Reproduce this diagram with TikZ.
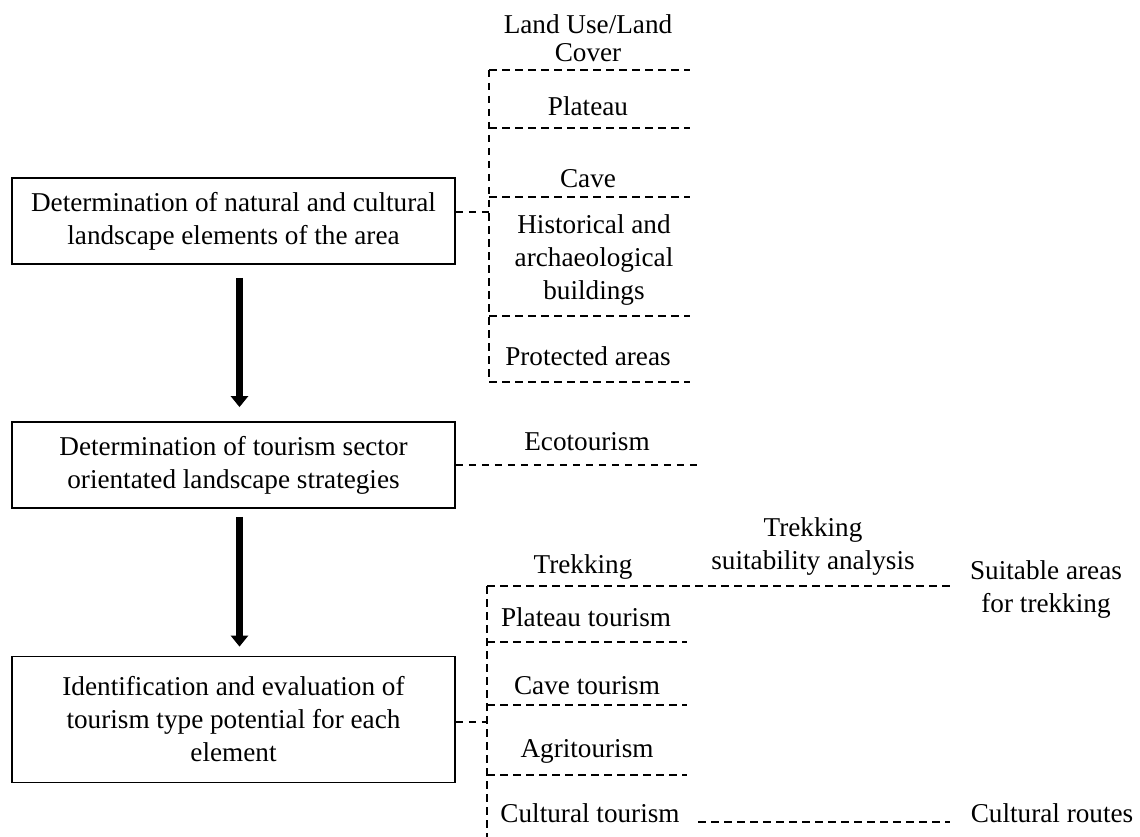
\documentclass[tikz,border=0pt]{standalone}
\usepackage{fontspec}
\setmainfont{Liberation Serif}
\usetikzlibrary{arrows.meta,calc}
\begin{document}
\begin{tikzpicture}[x=1pt,y=-1pt,
  box/.style={draw,line width=1.8pt,minimum width=443pt,align=center,inner sep=0pt,font=\fontsize{27.2}{33}\selectfont},
  lbl/.style={align=center,inner sep=0pt,font=\fontsize{27.2}{33}\selectfont},
  dashline/.style={line width=1.4pt,dash pattern=on 7.5pt off 5.5pt},
  bigarrow/.style={line width=7pt,-{Triangle[width=17pt,length=11pt]}}]
\useasboundingbox (0,0) rectangle (1140,837);
\fill[white] (0,0) rectangle (1140,837);

% main boxes
\node[box,minimum height=86pt] (b1) at (233.5,221) {Determination of natural and cultural\\landscape elements of the area};
\node[box,minimum height=86pt] (b2) at (233.5,465) {Determination of tourism sector\\orientated landscape strategies};
\node[box,minimum height=126pt] (b3) at (233.5,719.5) {Identification and evaluation of\\tourism type potential for each\\element};

% arrows
\coordinate (ax) at (239.5,0);
\draw[bigarrow] ($(b1.south -| ax)+(0,13)$) -- ($(b2.north -| ax)+(0,-14)$);
\draw[bigarrow] ($(b2.south -| ax)+(0,8)$) -- ($(b3.north -| ax)+(0,-9)$);

% top group
\foreach \i/\y in {1/70,2/128,3/197,4/316,5/382}{
  \coordinate (A\i) at (489,\y);
  \coordinate (A\i e) at (690,\y);
}
\coordinate (Aj) at (489,212);
\foreach \i in {1,...,5}{\draw[dashline] (A\i) -- (A\i e);}
\draw[dashline] (A1) -- (A5);
\draw[dashline] (b1.east |- Aj) -- (Aj);

\node[lbl,font=\fontsize{27.2}{28}\selectfont] (lulc) at (588,38) {Land Use/Land\\Cover};
\node[lbl] (plat) at (588,106) {Plateau};
\node[lbl] (cave) at (588,179) {Cave};
\node[lbl] (hist) at (594,260) {Historical and\\archaeological\\buildings};
\node[lbl] (prot) at (588,356) {Protected areas};

% middle group
\coordinate (Ee) at (700,465);
\draw[dashline] (b2.east |- Ee) -- (Ee);
\node[lbl] (eco) at (587,442) {Ecotourism};

% bottom group
\coordinate (C1) at (487,586);
\coordinate (C1e) at (950,586);
\foreach \i/\y in {2/642,3/705,4/775}{
  \coordinate (C\i) at (487,\y);
  \coordinate (C\i e) at (687,\y);
}
\coordinate (Cb) at (487,837);
\coordinate (Cj) at (487,722);
\draw[dashline] (C1) -- (C1e);
\foreach \i in {2,3,4}{\draw[dashline] (C\i) -- (C\i e);}
\draw[dashline] (C1) -- (Cb);
\draw[dashline] (b3.east |- Cj) -- (Cj);

\node[lbl] (trek) at (583,566.5) {Trekking};
\node[lbl] (plt) at (586,617.5) {Plateau tourism};
\node[lbl] (cvt) at (587,685.5) {Cave tourism};
\node[lbl] (agr) at (587,751.5) {Agritourism};
\node[lbl] (cul) at (590,813.5) {Cultural tourism};

\node[lbl] (tsa) at (813,546) {Trekking\\suitability analysis};
\node[lbl] (sat) at (1046,589.5) {Suitable areas\\for trekking};
\node[lbl] (cr) at (1052,813.5) {Cultural routes};

\coordinate (Rs) at (698,822);
\coordinate (Re) at (950,822);
\draw[dashline] (Rs) -- (Re);
\end{tikzpicture}
\end{document}
